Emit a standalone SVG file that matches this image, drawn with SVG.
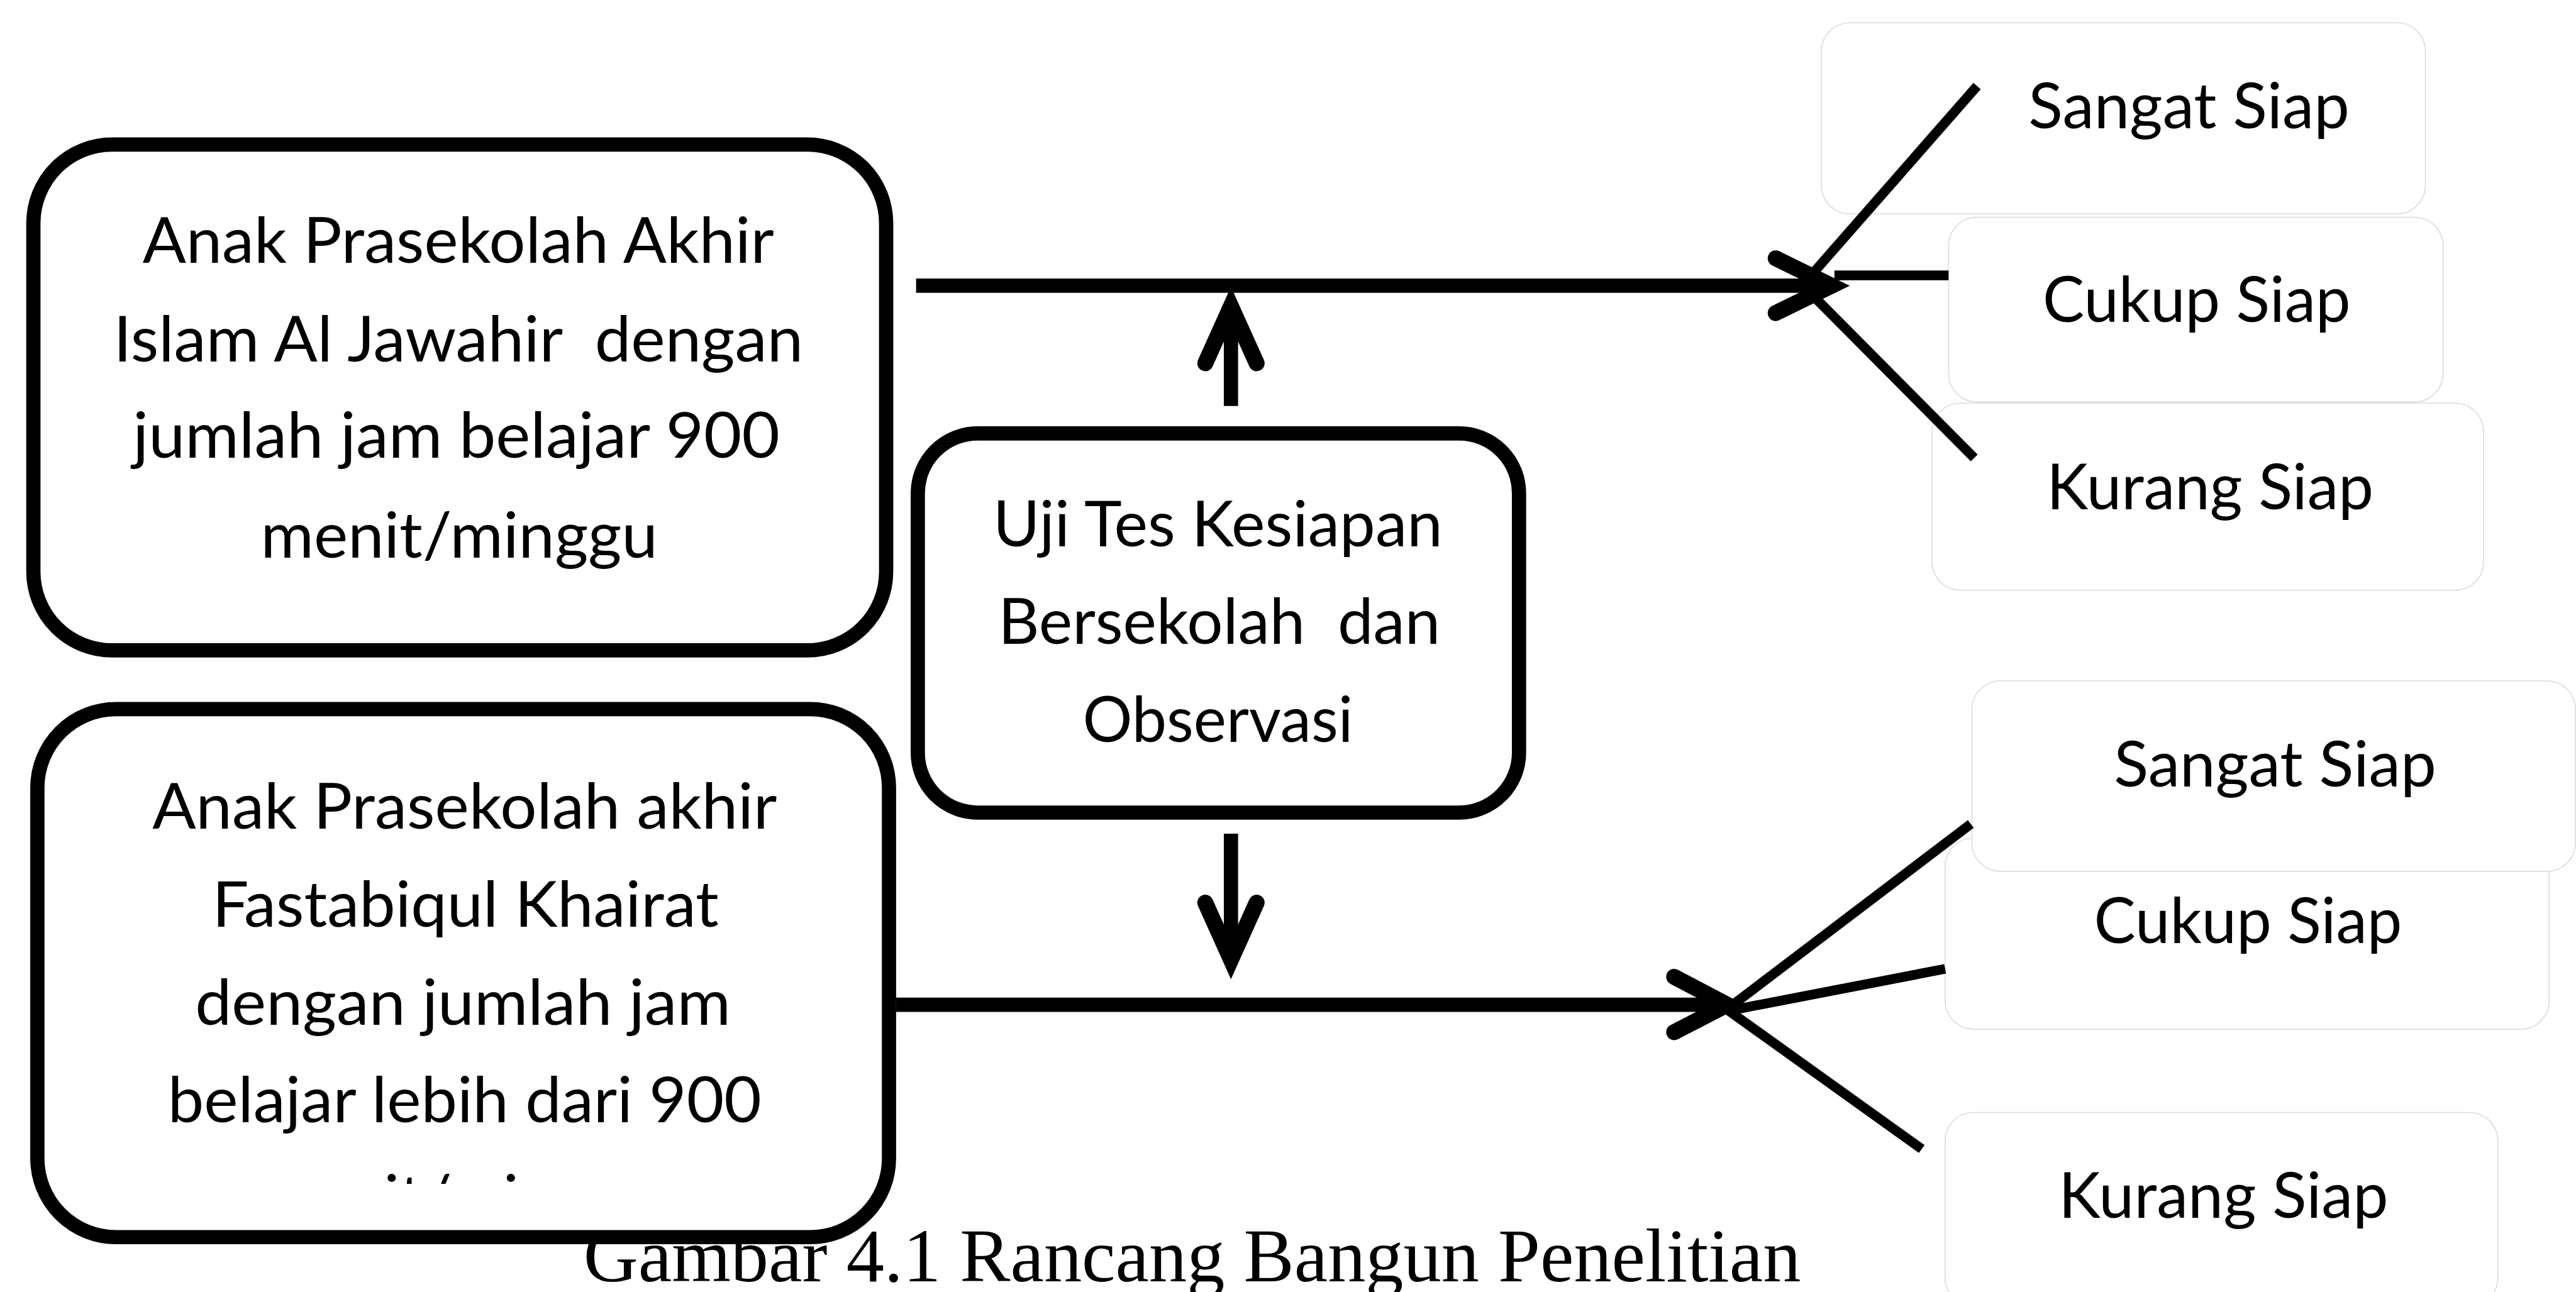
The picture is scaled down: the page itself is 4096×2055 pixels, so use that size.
<svg xmlns="http://www.w3.org/2000/svg" width="4096" height="2055" viewBox="0 0 4096 2055">
<style>
.t{font-family:Lato,"Open Sans","Liberation Sans",sans-serif;font-size:112px;fill:#000}
.cap{font-family:"Liberation Serif","Times New Roman",serif;font-size:132px;fill:#000}
.box{fill:#fff;stroke:#000;stroke-width:25}
.sbox{fill:#fff;stroke:#dcdcdc;stroke-width:1.8}
.main{stroke:#000;stroke-width:25;fill:none}
.head{stroke:#000;stroke-width:28;fill:none;stroke-linecap:round;stroke-linejoin:miter;stroke-miterlimit:10}
.fan{stroke:#000;stroke-width:17;fill:none}
</style>
<defs>
<clipPath id="clip5" clipPathUnits="userSpaceOnUse"><rect x="0" y="1990" width="1600" height="86"/></clipPath>
</defs>
<rect width="4096" height="2055" fill="#fff"/>
<g transform="scale(0.907)">
  <text id="caption" class="cap" x="1023" y="2247" textLength="2134" lengthAdjust="spacingAndGlyphs">Gambar 4.1 Rancang Bangun Penelitian</text>

  <g id="top-sangat"><rect class="sbox" x="3193" y="40" width="1059" height="335" rx="50"/><text class="t" x="3556" y="225" textLength="563" lengthAdjust="spacingAndGlyphs">Sangat Siap</text></g>
  <g id="top-cukup"><rect class="sbox" x="3416" y="381" width="867" height="324" rx="50"/><text class="t" x="3581" y="565" textLength="540" lengthAdjust="spacingAndGlyphs">Cukup Siap</text></g>
  <g id="top-kurang"><rect class="sbox" x="3387" y="707" width="967" height="328" rx="50"/><text class="t" x="3588" y="893" textLength="573" lengthAdjust="spacingAndGlyphs">Kurang Siap</text></g>

  <g id="bot-cukup"><rect class="sbox" x="3410" y="1470" width="1059" height="335" rx="50"/><text class="t" x="3671" y="1654" textLength="540" lengthAdjust="spacingAndGlyphs">Cukup Siap</text></g>
  <g id="bot-sangat"><rect class="sbox" x="3457" y="1194" width="1058" height="334" rx="50"/><text class="t" x="3706" y="1379" textLength="565" lengthAdjust="spacingAndGlyphs">Sangat Siap</text></g>
  <g id="bot-kurang"><rect class="sbox" x="3410" y="1951" width="969" height="340" rx="50"/><text class="t" x="3609" y="2136" textLength="578" lengthAdjust="spacingAndGlyphs">Kurang Siap</text></g>

  <g id="box-jawahir">
    <rect class="box" x="58.5" y="253.5" width="1495" height="887" rx="138"/>
    <text class="t" x="250" y="461" textLength="1107" lengthAdjust="spacingAndGlyphs">Anak Prasekolah Akhir</text>
    <text class="t" x="199" y="634" textLength="1209" lengthAdjust="spacingAndGlyphs" xml:space="preserve">Islam Al Jawahir  dengan</text>
    <text class="t" x="233" y="803" textLength="1134" lengthAdjust="spacingAndGlyphs">jumlah jam belajar 900</text>
    <text class="t" x="457" y="978" textLength="696" lengthAdjust="spacingAndGlyphs">menit/minggu</text>
  </g>

  <g id="box-fastabiqul">
    <rect class="box" x="65.5" y="1243.5" width="1493" height="926" rx="138"/>
    <text class="t" x="267" y="1453" textLength="1095" lengthAdjust="spacingAndGlyphs">Anak Prasekolah akhir</text>
    <text class="t" x="372" y="1625" textLength="888" lengthAdjust="spacingAndGlyphs">Fastabiqul Khairat</text>
    <text class="t" x="342" y="1797" textLength="939" lengthAdjust="spacingAndGlyphs">dengan jumlah jam</text>
    <text class="t" x="294" y="1968" textLength="1041" lengthAdjust="spacingAndGlyphs">belajar lebih dari 900</text>
    <text class="t" x="457" y="2140" textLength="696" lengthAdjust="spacingAndGlyphs" clip-path="url(#clip5)">menit/minggu</text>
  </g>

  <g id="box-uji">
    <rect class="box" x="1609" y="760" width="1054" height="665" rx="105" stroke-width="24"/>
    <text class="t" x="1741" y="958" textLength="788" lengthAdjust="spacingAndGlyphs">Uji Tes Kesiapan</text>
    <text class="t" x="1750" y="1129" textLength="775" lengthAdjust="spacingAndGlyphs" xml:space="preserve">Bersekolah  dan</text>
    <text class="t" x="1898" y="1301" textLength="474" lengthAdjust="spacingAndGlyphs">Observasi</text>
  </g>

  <g id="connectors">
    <line class="main" x1="1606" y1="501" x2="3200" y2="501"/>
    <polyline class="head" points="3113,453 3211,501 3113,549"/>
    <line class="main" x1="2158" y1="712" x2="2158" y2="550" stroke-width="23"/>
    <polyline class="head" points="2113,637 2158,537 2203,637" stroke-width="24"/>
    <line class="main" x1="2158" y1="1462" x2="2158" y2="1670" stroke-width="23"/>
    <polyline class="head" points="2113,1583 2158,1683 2203,1583" stroke-width="24"/>
    <line class="main" x1="1571" y1="1762" x2="3018" y2="1762" stroke-width="24"/>
    <polyline class="head" points="2935,1713 3028,1762 2935,1810"/>
    <line class="fan" x1="3160" y1="500" x2="3466" y2="151"/>
    <line class="fan" x1="3216" y1="483" x2="3416" y2="483"/>
    <line class="fan" x1="3160" y1="500" x2="3461" y2="803"/>
    <line class="fan" x1="3030" y1="1768" x2="3455" y2="1445"/>
    <line class="fan" x1="3033" y1="1772" x2="3410" y2="1699"/>
    <line class="fan" x1="3030" y1="1772" x2="3369" y2="2015"/>
  </g>
</g>
</svg>
